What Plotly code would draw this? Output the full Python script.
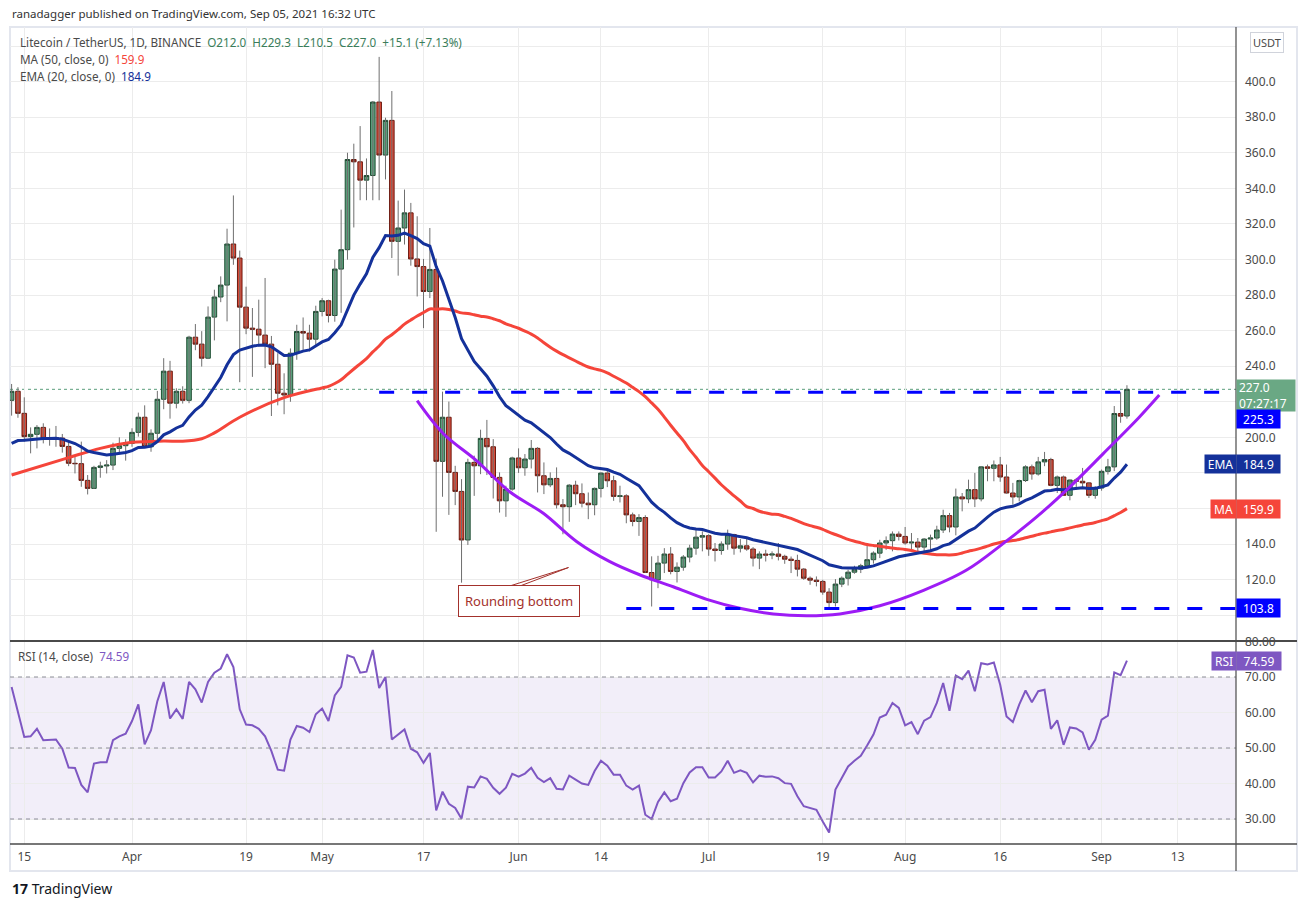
import pandas as pd
import plotly.graph_objects as go

# Litecoin / TetherUS daily candles (Binance), 13 Mar 2021 - 5 Sep 2021
start_date = "2021-03-13"

opens = [
    220.8, 225.9, 213.5, 200.4, 201.7, 205.6, 199.4, 199.8, 199.6, 194.9,
    185.4, 185.2, 175.8, 171.3, 183.1, 183.9, 184.4, 193.8, 195.3, 196.6,
    202.8, 211.3, 194.7, 202.3, 221.4, 237.2, 219.2, 225.9, 220.8, 256.3,
    252.4, 244.5, 267.6, 278.9, 285.6, 308.7, 300.8, 273.2, 261.4, 260.8,
    257.5, 252.4, 241.1, 224.8, 223.8, 247.3, 259.5, 258.6, 255.2, 270.8,
    276.8, 268.5, 294.6, 305.5, 356.2, 354.9, 344.6, 347.2, 388.5, 358.7,
    378.2, 310.2, 317.7, 326.2, 300.3, 296.0, 282.0, 294.4, 186.5, 211.3,
    180.3, 169.6, 142.3, 185.9, 184.0, 199.4, 194.7, 177.5, 164.3, 170.9,
    188.4, 182.9, 187.8, 193.8, 178.4, 173.3, 176.9, 162.1, 161.0, 173.1,
    168.3, 163.0, 162.1, 171.3, 179.9, 175.6, 166.8, 167.1, 156.4, 152.7,
    154.9, 124.0, 119.9, 129.3, 134.4, 124.6, 127.0, 132.7, 137.7, 143.9,
    144.7, 137.2, 136.4, 140.0, 145.3, 137.7, 139.0, 137.2, 132.1, 134.4,
    133.8, 134.4, 133.1, 131.5, 130.8, 125.9, 120.8, 119.7, 119.0, 113.0,
    107.1, 117.5, 120.8, 124.2, 125.9, 127.8, 131.2, 134.9, 140.6, 141.9,
    145.6, 144.3, 140.6, 141.1, 138.3, 142.8, 143.4, 147.9, 156.0, 149.6,
    166.5, 165.4, 170.6, 165.4, 183.4, 182.6, 184.5, 177.7, 168.7, 166.5,
    175.7, 183.4, 179.4, 186.2, 187.5, 173.0, 177.7, 167.4, 176.0, 175.3,
    174.4, 167.4, 171.5, 180.9, 183.4, 213.4, 212.0,
]
highs = [
    230.0, 228.2, 222.5, 205.6, 206.9, 207.9, 205.0, 206.4, 201.9, 197.6,
    189.5, 197.6, 178.8, 184.0, 186.3, 187.2, 197.0, 200.0, 198.9, 205.1,
    213.9, 218.0, 204.5, 226.1, 244.5, 243.0, 227.6, 228.7, 257.1, 263.7,
    259.7, 273.6, 283.0, 290.5, 317.3, 336.0, 305.0, 284.7, 272.7, 277.4,
    289.6, 257.0, 247.3, 236.0, 250.0, 263.3, 267.4, 263.3, 274.0, 278.3,
    277.4, 299.9, 328.0, 360.0, 365.1, 375.0, 356.8, 389.1, 413.9, 379.7,
    394.7, 333.1, 339.3, 331.8, 324.3, 300.3, 317.7, 300.5, 225.7, 220.1,
    184.0, 176.5, 188.0, 189.7, 204.3, 209.8, 199.0, 180.3, 172.8, 189.1,
    193.8, 190.6, 198.5, 194.5, 185.9, 180.3, 183.1, 165.3, 173.7, 175.6,
    174.1, 169.0, 171.8, 180.3, 182.2, 178.4, 172.8, 168.0, 157.7, 156.8,
    156.2, 133.1, 133.4, 137.7, 138.3, 129.7, 133.8, 139.6, 149.0, 147.1,
    145.5, 140.6, 141.5, 148.1, 145.8, 142.8, 142.8, 138.3, 135.9, 136.8,
    135.9, 140.6, 134.0, 133.0, 134.0, 126.5, 121.8, 121.8, 119.9, 115.2,
    120.3, 121.8, 125.5, 127.8, 128.9, 140.6, 135.9, 142.4, 144.3, 147.1,
    147.1, 149.6, 146.2, 143.4, 143.4, 145.3, 150.3, 159.3, 157.5, 171.2,
    168.7, 176.2, 180.0, 183.8, 184.7, 187.0, 189.0, 184.7, 174.4, 176.2,
    184.3, 184.7, 189.0, 191.8, 188.5, 178.5, 178.5, 176.2, 177.2, 182.8,
    174.9, 172.5, 181.9, 187.9, 217.6, 225.4, 229.3,
]
lows = [
    212.2, 211.0, 197.6, 191.0, 193.8, 196.6, 195.3, 194.7, 191.4, 183.8,
    179.7, 172.2, 167.9, 171.0, 177.3, 179.7, 181.6, 190.6, 186.9, 194.7,
    200.4, 194.0, 191.9, 197.6, 215.8, 210.5, 216.3, 219.0, 219.2, 249.0,
    239.8, 244.0, 254.5, 276.0, 265.2, 297.0, 231.0, 258.0, 234.0, 251.0,
    238.9, 212.0, 218.0, 213.0, 220.0, 243.6, 249.2, 248.3, 252.0, 268.0,
    264.6, 265.0, 270.0, 299.9, 318.0, 333.3, 333.3, 333.3, 333.3, 345.0,
    300.8, 290.9, 308.4, 296.5, 279.2, 261.4, 278.3, 146.9, 166.6, 156.4,
    161.9, 118.3, 139.5, 167.1, 179.3, 178.8, 165.6, 157.7, 155.3, 170.0,
    180.0, 178.4, 182.5, 169.0, 168.1, 172.0, 160.0, 145.5, 152.5, 161.9,
    160.6, 154.0, 156.2, 166.2, 172.0, 164.3, 163.4, 151.7, 150.0, 144.6,
    123.9, 104.9, 115.2, 123.7, 123.0, 118.4, 125.0, 129.7, 134.0, 135.9,
    133.4, 130.2, 134.0, 136.8, 134.0, 135.3, 136.2, 127.4, 125.9, 130.2,
    131.5, 130.8, 128.9, 123.7, 121.8, 119.9, 117.1, 116.2, 111.5, 103.9,
    104.9, 115.8, 116.7, 123.3, 123.7, 126.5, 129.0, 132.1, 136.8, 135.9,
    142.0, 139.6, 136.8, 135.3, 135.3, 135.9, 142.4, 146.2, 146.6, 144.9,
    158.4, 163.0, 160.8, 164.0, 175.3, 175.3, 175.0, 168.4, 162.2, 164.0,
    174.9, 176.2, 178.5, 183.8, 172.5, 168.7, 167.2, 164.6, 170.6, 171.0,
    165.9, 165.5, 170.0, 179.1, 181.0, 208.2, 210.5,
]
closes = [
    225.9, 213.5, 200.4, 201.7, 205.6, 199.4, 199.8, 199.6, 194.9, 185.4,
    185.2, 175.8, 171.3, 183.1, 183.9, 184.4, 193.8, 195.3, 196.6, 202.8,
    211.3, 194.7, 202.3, 221.4, 237.2, 219.2, 225.9, 220.8, 256.3, 252.4,
    244.5, 267.6, 278.9, 285.6, 308.7, 300.8, 273.2, 261.4, 260.8, 257.5,
    252.4, 241.1, 224.8, 223.8, 247.3, 259.5, 258.6, 255.2, 270.8, 276.8,
    268.5, 294.6, 305.5, 356.2, 354.9, 344.6, 347.2, 388.5, 358.7, 378.2,
    310.2, 317.7, 326.2, 300.3, 296.0, 282.0, 294.4, 186.5, 211.3, 180.3,
    169.6, 142.3, 185.9, 184.0, 199.4, 194.7, 177.5, 164.3, 170.9, 188.4,
    182.9, 187.8, 193.8, 178.4, 173.3, 176.9, 162.1, 161.0, 173.1, 168.3,
    163.0, 162.1, 171.3, 179.9, 175.6, 166.8, 167.1, 156.4, 152.7, 154.9,
    124.0, 119.9, 129.3, 134.4, 124.6, 127.0, 132.7, 137.7, 143.9, 144.7,
    137.2, 136.4, 140.0, 145.3, 137.7, 139.0, 137.2, 132.1, 134.4, 133.8,
    134.4, 133.1, 131.5, 130.8, 125.9, 120.8, 119.7, 119.0, 113.0, 107.1,
    117.5, 120.8, 124.2, 125.9, 127.8, 131.2, 134.9, 140.6, 141.9, 145.6,
    144.3, 140.6, 141.1, 138.3, 142.8, 143.4, 147.9, 156.0, 149.6, 166.5,
    165.4, 170.6, 165.4, 183.4, 182.6, 184.5, 177.7, 168.7, 166.5, 175.7,
    183.4, 179.4, 186.2, 187.5, 173.0, 177.7, 167.4, 176.0, 175.3, 174.4,
    167.4, 171.5, 180.9, 183.4, 213.4, 211.9, 227.0,
]

# RSI(14) as plotted in the lower pane
rsi_values = [
    67.2, 60.4, 53.1, 53.3, 55.4, 52.2, 52.2, 52.4, 49.8, 44.5,
    44.4, 39.6, 37.5, 45.6, 46.0, 46.0, 52.2, 53.3, 54.0,
    57.6, 62.3, 51.0, 55.0, 63.2, 68.6, 58.3, 60.9, 58.2, 68.6,
    66.5, 62.8, 68.6, 71.2, 72.4, 76.4, 72.8, 60.9, 56.6, 56.4,
    55.4, 53.3, 49.1, 43.9, 43.6, 52.4, 56.2, 55.7, 54.5, 59.5,
    61.1, 57.6, 64.8, 67.2, 76.1, 75.5, 71.2, 71.5, 77.6, 66.9,
    70.0, 52.4, 53.8, 55.2, 49.8, 48.8, 45.8, 48.6, 32.4, 37.7,
    34.3, 33.1, 30.1, 39.1, 38.9, 42.0, 41.3, 38.8, 37.1, 38.8, 42.7,
    41.9, 42.8, 44.4, 41.6, 40.4, 41.5, 38.5, 38.3, 42.2, 41.1,
    40.0, 39.6, 43.5, 46.4, 45.0, 42.5, 42.5, 39.4, 38.3, 39.4,
    31.2, 30.0, 34.8, 37.5, 35.0, 35.7, 40.1, 43.1, 44.6, 44.6,
    41.7, 41.7, 43.4, 46.4, 43.0, 43.7, 43.0, 40.3, 42.2, 41.9,
    42.0, 41.5, 40.1, 39.9, 36.4, 33.6, 33.1, 32.6, 29.3, 26.2,
    38.3, 41.5, 44.8, 46.4, 47.8, 50.7, 53.8, 58.6, 59.4, 62.7, 61.3,
    56.4, 57.3, 53.9, 57.7, 58.7, 62.7, 68.3, 60.5, 70.4, 69.4,
    71.8, 66.0, 73.9, 73.5, 74.1, 67.8, 58.9, 57.3, 62.2, 66.2,
    62.9, 66.0, 66.4, 55.4, 57.8, 50.9, 55.8, 55.5, 54.4, 49.5, 52.3,
    58.0, 59.1, 71.3, 70.5, 74.59,
]

# MA(50) before 50 closes are available in the window
ma50_head_dates = ["2021-03-13", "2021-03-22", "2021-03-27", "2021-04-01", "2021-04-06",
                   "2021-04-09", "2021-04-12", "2021-04-14", "2021-04-18", "2021-04-25"]
ma50_head_values = [178.8, 188.6, 193.8, 197.2, 197.9, 197.8, 199.2, 202.5, 211.3, 222.3]
ema20_seed = 193.5

# hand drawn "rounding bottom" arc (days after start_date, price)
arc_days = [64.0, 68.1, 73.4, 78.6, 83.9, 89.2, 94.4, 99.2, 104.4, 109.7, 114.9,
            120.2, 125.5, 130.7, 137.0, 143.9, 150.7, 156.5, 161.8, 167.0, 172.3,
            177.9, 181.1]
arc_prices = [220.6, 202.2, 186.8, 169.4, 157.3, 141.3, 130.1, 122.6, 116.0, 108.9,
              103.9, 100.7, 99.7, 100.7, 105.3, 114.0, 125.4, 140.4, 155.4, 172.2,
              191.0, 211.2, 223.8]

resistance = 225.3
resistance_from = "2021-05-10"
support = 103.8
support_from = "2021-06-18"

callout_text = "Rounding bottom"
callout_at = ["2021-06-01 02:00", 108.0]
wedge_dates = ["2021-05-30 14:00", "2021-06-08 21:00", "2021-06-01 05:00"]
wedge_prices = [116.4, 126.8, 116.4]

tick_dates = ["2021-03-15", "2021-04-01", "2021-04-19", "2021-05-01", "2021-05-17",
              "2021-06-01", "2021-06-14", "2021-07-01", "2021-07-19", "2021-08-01",
              "2021-08-16", "2021-09-01", "2021-09-13"]
tick_labels = ["15", "Apr", "19", "May", "17", "Jun", "14", "Jul", "19", "Aug",
               "16", "Sep", "13"]
price_ticks = [100, 120, 140, 160, 180, 200, 220, 240, 260, 280, 300, 320, 340, 360, 380, 400, 420]
hidden_price_ticks = [100, 180, 220, 420]   # covered by the price tags
rsi_ticks = [30, 40, 50, 60, 70, 80]

ma_label = "159.9"
ema_label = "184.9"
rsi_label = "74.59"
countdown = "07:27:17"

# page geometry (pixels of the 1308x907 screenshot); the page renders the
# figure 8px lower and 899px tall, so vertical positions are mapped onto that
W, H = 1308, 907
TOP, FIG_H = 8, 899
FONT = "Noto Sans"
GRID = "#ececec"
AXIS = "#4a4a4a"


def px(x):
    return x / W


def py(y):
    return 1 - (y - TOP) / FIG_H


dates = pd.date_range(start_date, periods=len(closes), freq="D")
t0 = pd.Timestamp(start_date)
x_start = t0 - pd.Timedelta(days=0.2525)
x_end = t0 + pd.Timedelta(days=193.21)

# indicators
ema20 = []
prev = ema20_seed
for c in closes:
    prev = prev + (c - prev) * 2 / 21
    ema20.append(prev)

ma50 = pd.Series(closes).rolling(50).mean()
ma_x = list(pd.to_datetime(ma50_head_dates)) + list(dates[49:])
ma_y = ma50_head_values + list(ma50[49:])

arc_x = t0 + pd.to_timedelta(arc_days, unit="D")

fig = go.Figure()

# grey wicks underneath the bodies
wick_x, wick_y = [], []
for d, lo, hi in zip(dates, lows, highs):
    wick_x += [d, d, None]
    wick_y += [lo, hi, None]
fig.add_trace(go.Scatter(x=wick_x, y=wick_y, mode="lines",
                         line=dict(color="#6f6f6f", width=1), hoverinfo="skip"))

fig.add_trace(go.Scatter(x=ma_x, y=ma_y, mode="lines", line_shape="spline",
                         line=dict(color="#f5453a", width=3), hoverinfo="skip"))
fig.add_trace(go.Scatter(x=dates, y=ema20, mode="lines",
                         line=dict(color="#14319a", width=3), hoverinfo="skip"))

body_hi = [max(o, c) for o, c in zip(opens, closes)]
body_lo = [min(o, c) for o, c in zip(opens, closes)]
fig.add_trace(go.Candlestick(
    x=dates, open=opens, high=body_hi, low=body_lo, close=closes,
    increasing=dict(fillcolor="#5b9f7c", line=dict(color="#1f4d33", width=1)),
    decreasing=dict(fillcolor="#d84a38", line=dict(color="#6b1a10", width=1)),
    whiskerwidth=0, hoverinfo="skip",
))

fig.add_trace(go.Scatter(x=arc_x, y=arc_prices, mode="lines", line_shape="spline",
                         line=dict(color="#9d1cf5", width=3), hoverinfo="skip"))

# callout pointer
fig.add_trace(go.Scatter(x=wedge_dates + wedge_dates[:1], y=wedge_prices + wedge_prices[:1],
                         mode="lines", fill="toself", fillcolor="white",
                         line=dict(color="#a3312c", width=1), hoverinfo="skip"))

fig.add_trace(go.Scatter(x=dates, y=rsi_values, mode="lines", xaxis="x2", yaxis="y2",
                         line=dict(color="#7e57c2", width=2), hoverinfo="skip"))

# levels
fig.add_shape(type="line", xref="x", yref="y", x0=x_start, x1=x_end, y0=closes[-1], y1=closes[-1],
              line=dict(color="#5b9f7c", width=1, dash="dot"), layer="below")
for level, since in [(resistance, resistance_from), (support, support_from)]:
    fig.add_shape(type="line", xref="x", yref="y", x0=since, x1=x_end, y0=level, y1=level,
                  line=dict(color="#0000ff", width=3, dash="15px,18px"))

# RSI band and guide lines
fig.add_shape(type="rect", xref="x2 domain", yref="y2", x0=0, x1=1, y0=30, y1=70,
              fillcolor="rgba(126,87,194,0.1)", line_width=0, layer="below")
for lvl in [30, 50, 70]:
    fig.add_shape(type="line", xref="x2 domain", yref="y2", x0=0, x1=1, y0=lvl, y1=lvl,
                  line=dict(color="#8c8c99", width=1, dash="4px,4px"))

# frame and separators
fig.add_shape(type="rect", xref="paper", yref="paper", x0=px(10), x1=px(1297), y0=py(871), y1=py(27),
              line=dict(color="#e3e6ee", width=2), layer="below")
fig.add_shape(type="line", xref="paper", yref="paper", x0=px(1236), x1=px(1236), y0=py(871), y1=py(27),
              line=dict(color=AXIS, width=1.2))
fig.add_shape(type="line", xref="paper", yref="paper", x0=px(10), x1=px(1297), y0=py(641), y1=py(641),
              line=dict(color=AXIS, width=2))
fig.add_shape(type="line", xref="paper", yref="paper", x0=px(10), x1=px(1297), y0=py(844), y1=py(844),
              line=dict(color=AXIS, width=1.5))

fig.add_annotation(x=callout_at[0], y=callout_at[1], xref="x", yref="y", text=callout_text,
                   showarrow=False, font=dict(family=FONT, size=13, color="#a3312c"),
                   bgcolor="white", bordercolor="#a3312c", borderwidth=1, borderpad=6)


def tag(text, y, yref, color, x0, x1, yshift=0, height=14, align="center"):
    fig.add_annotation(x=px(x0), xref="paper", xanchor="left", y=y, yref=yref, yanchor="middle",
                       yshift=yshift, text=text, showarrow=False, bgcolor=color,
                       width=x1 - x0 - 4, height=height, borderpad=2, align=align,
                       font=dict(family=FONT, size=12, color="white"))


tag("%.1f<br>%s" % (closes[-1], countdown), closes[-1], "y", "#6aa884", 1236, 1294,
    yshift=-6, height=27, align="left")
tag("%.1f" % resistance, resistance, "y", "#0000ff", 1236, 1279, yshift=-27)
tag("EMA", float(ema_label), "y", "#14319a", 1204, 1235)
tag(ema_label, float(ema_label), "y", "#14319a", 1236, 1279)
tag("MA", float(ma_label), "y", "#f5453a", 1210, 1235)
tag(ma_label, float(ma_label), "y", "#f5453a", 1236, 1279)
tag("%.1f" % support, support, "y", "#0000ff", 1236, 1279)
tag("RSI", float(rsi_label), "y2", "#7e57c2", 1211, 1235)
tag(rsi_label, float(rsi_label), "y2", "#7e57c2", 1236, 1280)

fig.add_annotation(x=px(1267), y=py(42.5), xref="paper", yref="paper", xanchor="center", yanchor="middle",
                   text="USDT", showarrow=False,
                   bgcolor="white", bordercolor="#d0d3db", borderwidth=1, borderpad=2,
                   font=dict(family=FONT, size=11, color="#4a4a4a"))

# header texts
chg = closes[-1] - closes[-2]
ohlc = "O%.1f&nbsp;&nbsp;H%.1f&nbsp;&nbsp;L%.1f&nbsp;&nbsp;C%.1f&nbsp;&nbsp;%+.1f (%+.2f%%)" % (
    opens[-1], highs[-1], lows[-1], closes[-1], chg, chg / closes[-2] * 100)
texts = [
    (10, 14, "ranadagger published on TradingView.com, Sep 05, 2021 16:32 UTC", 11.5, "#333333"),
    (18, 42, "Litecoin / TetherUS, 1D, BINANCE&nbsp;&nbsp;<span style='color:#3a7d5a'>%s</span>" % ohlc,
     11.7, "#4a4a4a"),
    (18, 59, "MA (50, close, 0)&nbsp;&nbsp;<span style='color:#f5453a'>%s</span>" % ma_label, 11.7, "#4a4a4a"),
    (18, 76, "EMA (20, close, 0)&nbsp;&nbsp;<span style='color:#14319a'>%s</span>" % ema_label, 11.7, "#4a4a4a"),
    (16, 656, "RSI (14, close)&nbsp;&nbsp;<span style='color:#7e57c2'>%s</span>" % rsi_label, 11.7, "#4a4a4a"),
    (10, 888, "<b>17</b> TradingView", 14, "#131722"),
]
for x, y, t, size, color in texts:
    fig.add_annotation(x=px(x), y=py(y), xref="paper", yref="paper", xanchor="left", yanchor="middle",
                       text=t, showarrow=False, font=dict(family=FONT, size=size, color=color))

price_text = ["" if v in hidden_price_ticks else "%.1f" % v for v in price_ticks]

tickfont = dict(family=FONT, size=12, color="#4a4a4a")
fig.update_layout(
    width=W, height=H,
    margin=dict(l=0, r=0, t=0, b=0),
    paper_bgcolor="white", plot_bgcolor="white",
    showlegend=False, hovermode=False,
    boxgap=0.2, boxgroupgap=0.1,
    xaxis=dict(domain=[px(10), px(1236)], range=[x_start, x_end], type="date", anchor="y",
               tickvals=tick_dates, showticklabels=False, showgrid=True, gridcolor=GRID,
               zeroline=False, rangeslider=dict(visible=False)),
    yaxis=dict(domain=[py(641), py(27)], range=[85.5, 430.7], side="right", anchor="x",
               tickvals=price_ticks, ticktext=price_text, tickfont=tickfont, ticklabelstandoff=8,
               showgrid=True, gridcolor=GRID, zeroline=False),
    xaxis2=dict(domain=[px(10), px(1236)], range=[x_start, x_end], type="date", anchor="y2",
                matches="x", tickvals=tick_dates, ticktext=tick_labels, tickfont=tickfont,
                showgrid=True, gridcolor=GRID, zeroline=False, ticklabelstandoff=4),
    yaxis2=dict(domain=[py(844), py(641)], range=[22.96, 80.14], side="right", anchor="x2",
                tickvals=rsi_ticks, tickformat=".2f", tickfont=tickfont, ticklabelstandoff=8,
                showgrid=True, gridcolor=GRID, zeroline=False),
)

fig.write_html("out.html", config={"displayModeBar": False},
               post_script="document.body.style.margin='0';")
